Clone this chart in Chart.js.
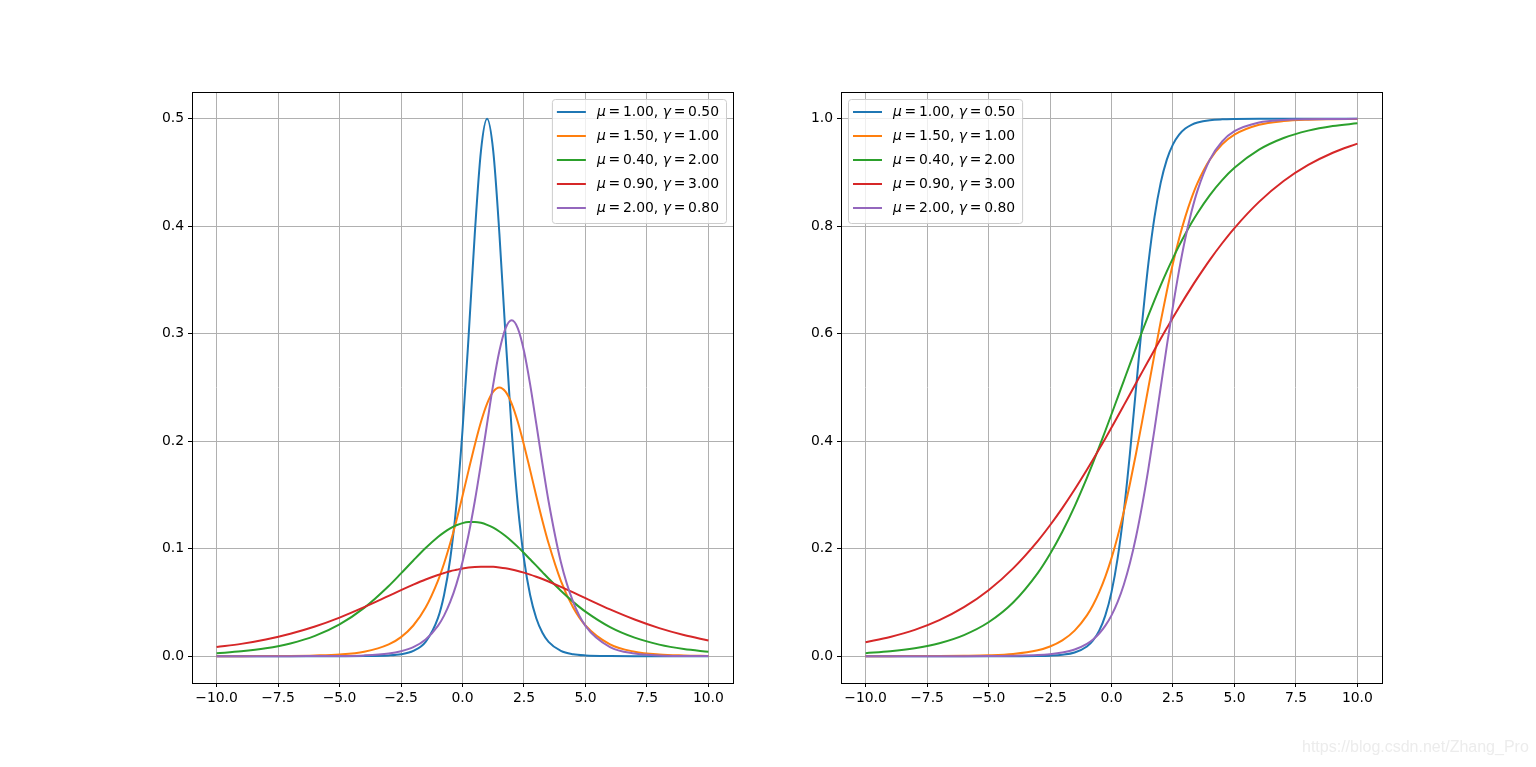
<!DOCTYPE html>
<html>
<head>
<meta charset="utf-8">
<script src="https://cdn.jsdelivr.net/npm/chart.js@4.4.1/dist/chart.umd.min.js"></script>
<style>
  body { margin: 0; background: #fff; width: 1536px; height: 767px; position: relative; overflow: hidden; }
  canvas { position: absolute; top: 0; }
  #c1 { left: 0; }
  #c2 { left: 768px; }
  .mark { position: absolute; left: 1302px; top: 738px; font: 16px "Liberation Sans", Arial, sans-serif; color: #ececec; }
</style>
</head>
<body>
<canvas id="c1" width="768" height="767"></canvas>
<canvas id="c2" width="768" height="767"></canvas>
<div class="mark">https://blog.csdn.net/Zhang_Pro</div>

<script>
  // x positions where values were read
  var xs = [-10, -9, -8, -7, -6, -5, -4, -3, -2.5, -2, -1.5, -1, -0.75, -0.5, -0.25,
            0, 0.25, 0.5, 0.75, 1, 1.25, 1.5, 1.75, 2, 2.25, 2.5, 2.75, 3, 3.25, 3.5,
            4, 4.5, 5, 6, 7, 8, 9, 10]

  var mus = [1.00, 1.50, 0.40, 0.90, 2.00]
  var gammas = [0.50, 1.00, 2.00, 3.00, 0.80]
  var colors = ['#1f77b4', '#ff7f0e', '#2ca02c', '#d62728', '#9467bd']

  // left panel (density)
  var pdfBlue = [0, 0, 0, 0, 0, 0, 0.0001, 0.0007, 0.0018, 0.0049, 0.0133, 0.0353, 0.0569, 0.0904, 0.1403,
    0.2100, 0.2983, 0.3932, 0.4700, 0.5000, 0.4700, 0.3932, 0.2983, 0.2100, 0.1403, 0.0904, 0.0569, 0.0353, 0.0218, 0.0133,
    0.0049, 0.0018, 0.0007, 0.0001, 0, 0, 0, 0]
  var pdfOrange = [0.0000, 0.0000, 0.0001, 0.0002, 0.0006, 0.0015, 0.0041, 0.0109, 0.0177, 0.0285, 0.0452, 0.0701, 0.0862, 0.1050, 0.1261,
    0.1491, 0.1731, 0.1966, 0.2179, 0.2350, 0.2461, 0.2500, 0.2461, 0.2350, 0.2179, 0.1966, 0.1731, 0.1491, 0.1261, 0.1050,
    0.0701, 0.0452, 0.0285, 0.0109, 0.0041, 0.0015, 0.0006, 0.0002]
  var pdfGreen = [0.0027, 0.0045, 0.0073, 0.0118, 0.0188, 0.0295, 0.0449, 0.0653, 0.0770, 0.0890, 0.1006, 0.1109, 0.1152, 0.1189, 0.1218,
    0.1238, 0.1248, 0.1249, 0.1241, 0.1222, 0.1195, 0.1160, 0.1118, 0.1070, 0.1017, 0.0960, 0.0901, 0.0842, 0.0782, 0.0722,
    0.0609, 0.0505, 0.0414, 0.0270, 0.0172, 0.0107, 0.0066, 0.0041]
  var pdfRed = [0.0084, 0.0114, 0.0155, 0.0209, 0.0276, 0.0359, 0.0456, 0.0561, 0.0614, 0.0665, 0.0713, 0.0755, 0.0773, 0.0790, 0.0803,
    0.0815, 0.0824, 0.0830, 0.0833, 0.0833, 0.0831, 0.0825, 0.0817, 0.0806, 0.0793, 0.0777, 0.0759, 0.0739, 0.0718, 0.0695,
    0.0645, 0.0593, 0.0540, 0.0435, 0.0341, 0.0261, 0.0197, 0.0146]
  var pdfPurple = [0, 0, 0, 0, 0.0001, 0.0002, 0.0007, 0.0024, 0.0045, 0.0083, 0.0154, 0.0281, 0.0377, 0.0504, 0.0668,
    0.0876, 0.1134, 0.1441, 0.1791, 0.2164, 0.2529, 0.2839, 0.3050, 0.3125, 0.3050, 0.2839, 0.2529, 0.2164, 0.1791, 0.1441,
    0.0876, 0.0504, 0.0281, 0.0083, 0.0024, 0.0007, 0.0002, 0.0001]

  // right panel (cumulative)
  var cdfBlue = [0, 0, 0, 0, 0, 0, 0.0000, 0.0003, 0.0009, 0.0025, 0.0067, 0.0180, 0.0293, 0.0474, 0.0759,
    0.1192, 0.1824, 0.2689, 0.3775, 0.5000, 0.6225, 0.7311, 0.8176, 0.8808, 0.9241, 0.9526, 0.9707, 0.9820, 0.9890, 0.9933,
    0.9975, 0.9991, 0.9997, 1.0000, 1, 1, 1, 1]
  var cdfOrange = [0.0000, 0.0000, 0.0001, 0.0002, 0.0006, 0.0015, 0.0041, 0.0110, 0.0180, 0.0293, 0.0474, 0.0759, 0.0953, 0.1192, 0.1480,
    0.1824, 0.2227, 0.2689, 0.3208, 0.3775, 0.4378, 0.5000, 0.5622, 0.6225, 0.6792, 0.7311, 0.7773, 0.8176, 0.8520, 0.8808,
    0.9241, 0.9526, 0.9707, 0.9890, 0.9959, 0.9985, 0.9994, 0.9998]
  var cdfGreen = [0.0055, 0.0090, 0.0148, 0.0241, 0.0392, 0.0630, 0.0998, 0.1545, 0.1900, 0.2315, 0.2789, 0.3318, 0.3601, 0.3894, 0.4195,
    0.4502, 0.4813, 0.5125, 0.5436, 0.5744, 0.6047, 0.6341, 0.6626, 0.6900, 0.7160, 0.7408, 0.7641, 0.7858, 0.8061, 0.8249,
    0.8581, 0.8860, 0.9089, 0.9427, 0.9644, 0.9781, 0.9866, 0.9918]
  var cdfRed = [0.0258, 0.0356, 0.0489, 0.0670, 0.0911, 0.1227, 0.1634, 0.2142, 0.2436, 0.2755, 0.3100, 0.3468, 0.3659, 0.3854, 0.4053,
    0.4256, 0.4460, 0.4667, 0.4875, 0.5083, 0.5291, 0.5498, 0.5704, 0.5907, 0.6106, 0.6303, 0.6495, 0.6682, 0.6864, 0.7040,
    0.7376, 0.7685, 0.7968, 0.8455, 0.8843, 0.9142, 0.9370, 0.9540]
  var cdfPurple = [0, 0, 0, 0, 0.0000, 0.0002, 0.0006, 0.0019, 0.0036, 0.0067, 0.0124, 0.0230, 0.0311, 0.0421, 0.0567,
    0.0759, 0.1009, 0.1330, 0.1733, 0.2227, 0.2815, 0.3487, 0.4225, 0.5000, 0.5775, 0.6513, 0.7185, 0.7773, 0.8267, 0.8670,
    0.9241, 0.9579, 0.9770, 0.9933, 0.9981, 0.9994, 0.9998, 1.0000]

  var xTicks = [-10, -7.5, -5, -2.5, 0, 2.5, 5, 7.5, 10]
  var pdfTicks = [0, 0.1, 0.2, 0.3, 0.4, 0.5]
  var cdfTicks = [0, 0.2, 0.4, 0.6, 0.8, 1.0]

  var FONT = 'DejaVu Sans'
  var fmt = function (v) { return v.toFixed(1).replace('-', '\u2212') }

  function makeSets(list) {
    return list.map(function (arr, i) {
      return {
        label: 'mu=' + mus[i].toFixed(2) + ', gamma=' + gammas[i].toFixed(2),
        data: xs.map(function (x, k) { return { x: x, y: arr[k] } }),
        borderColor: colors[i],
        backgroundColor: colors[i],
        borderWidth: 2,
        pointRadius: 0,
        cubicInterpolationMode: 'monotone',
        order: list.length - i
      }
    })
  }

  // black box round the plot area + legend inside it
  var boxPlugin = {
    id: 'boxPlugin',
    afterDatasetsDraw: function (chart, args, opts) {
      var c = chart.ctx, a = chart.chartArea
      c.save()
      c.strokeStyle = '#000'
      c.lineWidth = 1
      c.strokeRect(Math.round(a.left) + 0.5, Math.round(a.top) + 0.5, Math.round(a.right - a.left), Math.round(a.bottom - a.top))

      // legend
      var eq = '\u2009=\u2009'
      var rows = mus.map(function (m, i) {
        return [['\u03bc', true], [eq + m.toFixed(2) + ', ', false], ['\u03b3', true], [eq + gammas[i].toFixed(2), false]]
      })
      var wOf = function (segs) {
        var w = 0
        segs.forEach(function (s) {
          c.font = (s[1] ? 'italic ' : '') + '13.9px "' + FONT + '"'
          w += c.measureText(s[0]).width
        })
        return w
      }
      var tw = Math.max.apply(null, rows.map(wOf))
      var bw = 5 + 40 + tw + 7, bh = 124
      var bx = opts.side === 'right' ? a.right - 7 - bw : a.left + 7
      var by = a.top + 7
      c.beginPath()
      c.roundRect(bx + 0.5, by + 0.5, bw, bh, 3)
      c.fillStyle = 'rgba(255,255,255,0.8)'
      c.fill()
      c.strokeStyle = '#cccccc'
      c.lineWidth = 1
      c.stroke()
      rows.forEach(function (segs, i) {
        var y = by + 13 + i * 24
        c.strokeStyle = colors[i]
        c.lineWidth = 2
        c.beginPath()
        c.moveTo(bx + 5, y)
        c.lineTo(bx + 34, y)
        c.stroke()
        var tx = bx + 45
        c.fillStyle = '#000'
        c.textBaseline = 'middle'
        segs.forEach(function (s) {
          c.font = (s[1] ? 'italic ' : '') + '13.9px "' + FONT + '"'
          c.fillText(s[0], tx, y)
          tx += c.measureText(s[0]).width
        })
      })
      c.restore()
    }
  }

  function makeChart(id, list, yMin, yMax, yTicks, leftW, rightPad, side) {
    var ctx = document.getElementById(id).getContext('2d')
    return new Chart(ctx, {
      type: 'line',
      data: { datasets: makeSets(list) },
      plugins: [boxPlugin],
      options: {
        responsive: false,
        animation: false,
        devicePixelRatio: 1,
        layout: { padding: { top: 92, right: rightPad, bottom: 0, left: 0 } },
        plugins: {
          legend: { display: false },
          tooltip: { enabled: false },
          boxPlugin: { side: side }
        },
        scales: {
          x: {
            type: 'linear',
            min: -11, max: 11,
            afterFit: function (s) { s.height = 84 },
            afterBuildTicks: function (s) { s.ticks = xTicks.map(function (v) { return { value: v } }) },
            grid: { color: '#b0b0b0', lineWidth: 1, tickColor: '#000', tickLength: 4 },
            border: { display: false },
            ticks: { color: '#000', padding: 3, maxRotation: 0, font: { family: FONT, size: 13.9 }, callback: fmt }
          },
          y: {
            type: 'linear',
            min: yMin, max: yMax,
            afterFit: function (s) { s.width = leftW },
            afterBuildTicks: function (s) { s.ticks = yTicks.map(function (v) { return { value: v } }) },
            grid: { color: '#b0b0b0', lineWidth: 1, tickColor: '#000', tickLength: 4 },
            border: { display: false },
            ticks: { color: '#000', padding: 4, font: { family: FONT, size: 13.9 }, callback: fmt }
          }
        }
      }
    })
  }

  makeChart('c1', [pdfBlue, pdfOrange, pdfGreen, pdfRed, pdfPurple], -0.025, 0.525, pdfTicks, 192, 35, 'right')
  makeChart('c2', [cdfBlue, cdfOrange, cdfGreen, cdfRed, cdfPurple], -0.05, 1.05, cdfTicks, 73, 154, 'left')
</script>
</body>
</html>
